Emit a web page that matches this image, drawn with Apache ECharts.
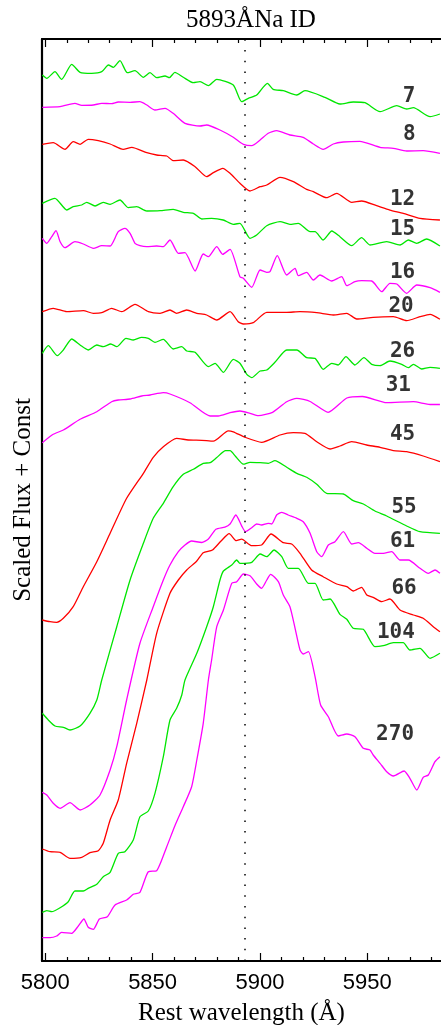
<!DOCTYPE html>
<html>
<head>
<meta charset="utf-8">
<script src="https://cdn.jsdelivr.net/npm/echarts@6/dist/echarts.min.js"></script>
<style>html,body{margin:0;padding:0;background:#fff;}#c{width:441px;height:1025px;}</style>
</head>
<body>
<div id="c"></div>
<script>
// Wavelength (Å) vs scaled flux + const, one array of [wavelength, flux] per epoch
const s7 = [[5798.6,88.6],[5800.7,88.27],[5804.5,88.93],[5807.6,88.17],[5812.3,89.67],[5816.2,88.87],[5821.6,88.77],[5826.3,88.93],[5829.4,89.6],[5831.7,89.37],[5834.8,90.03],[5838.2,88.83],[5841.8,89.03],[5845.7,88.37],[5848.8,88.83],[5851.9,88.33],[5855.8,88.5],[5857.8,88.33],[5860.4,88.87],[5864.3,88.37],[5869.0,87.83],[5872.1,87.93],[5876.0,87.53],[5879.9,88.17],[5887.6,87.6],[5891.5,85.93],[5894.6,86.27],[5898.5,86.6],[5903.5,87.77],[5906.2,87.17],[5910.9,87.03],[5917.2,86.6],[5921.0,87.03],[5930.3,86.37],[5937.3,85.7],[5943.5,85.9],[5949.0,85.83],[5956.0,84.93],[5963.8,85.53],[5968.4,85.2],[5971.5,85.33],[5979.3,84.43],[5983.9,84.7]];
const s8 = [[5798.6,85.37],[5806.9,85.43],[5813.8,85.77],[5817.0,85.57],[5822.4,85.6],[5826.3,85.77],[5830.9,85.73],[5834.0,85.9],[5839.5,85.87],[5844.1,85.93],[5847.3,85.6],[5851.1,85.1],[5855.8,85.27],[5859.6,84.77],[5865.1,83.77],[5872.1,83.5],[5875.2,83.6],[5881.4,83.1],[5887.6,82.37],[5892.3,81.67],[5896.2,81.53],[5900.1,82.1],[5903.9,82.77],[5907.8,83.03],[5914.0,82.6],[5920.2,82.37],[5924.9,81.7],[5929.5,81.17],[5934.2,81.7],[5938.9,81.9],[5946.6,81.97],[5956.0,81.37],[5962.2,81.27],[5968.4,81.0],[5976.1,81.03],[5983.9,80.77]];
const s12 = [[5798.6,81.67],[5803.7,81.83],[5809.2,81.17],[5813.0,81.93],[5816.2,81.67],[5820.0,82.17],[5824.7,82.03],[5830.2,81.7],[5836.3,81.17],[5840.3,81.37],[5847.3,80.83],[5851.9,80.6],[5856.6,80.5],[5859.6,80.03],[5864.3,80.1],[5869.8,79.43],[5875.2,78.43],[5878.3,78.83],[5882.7,79.27],[5886.1,78.77],[5890.7,77.77],[5895.4,77.0],[5900.1,77.43],[5903.2,77.6],[5909.4,78.37],[5915.6,77.93],[5921.8,77.17],[5924.9,76.93],[5931.1,76.33],[5935.8,76.77],[5942.8,75.87],[5947.4,76.0],[5954.4,75.53],[5960.6,75.1],[5966.8,74.77],[5974.6,74.27],[5983.9,74.1]];
const s15 = [[5798.6,75.77],[5804.5,76.27],[5810.0,75.1],[5813.0,75.43],[5817.0,75.6],[5819.3,75.87],[5823.2,75.5],[5827.0,75.87],[5830.2,75.67],[5834.8,76.1],[5838.7,75.33],[5842.6,75.43],[5847.3,75.0],[5853.5,75.03],[5859.6,75.17],[5864.3,74.87],[5869.0,74.77],[5872.9,74.2],[5877.5,74.27],[5882.9,74.1],[5887.6,73.67],[5890.7,73.77],[5895.4,72.27],[5898.5,72.6],[5903.2,73.53],[5909.4,73.93],[5914.0,73.67],[5917.9,73.77],[5923.4,72.93],[5925.7,72.93],[5929.5,72.1],[5933.5,73.0],[5937.3,72.43],[5942.8,71.53],[5947.4,72.33],[5951.3,71.6],[5959.1,71.93],[5965.3,71.6],[5969.2,72.1],[5973.1,71.77],[5977.7,72.2],[5983.9,71.5]];
const s16 = [[5798.6,72.27],[5800.7,71.77],[5803.0,72.43],[5805.0,73.03],[5806.9,71.93],[5809.2,71.33],[5813.8,71.93],[5817.7,71.7],[5822.4,71.27],[5826.3,71.53],[5830.2,71.5],[5834.0,72.93],[5837.1,73.27],[5839.5,72.77],[5841.8,71.77],[5844.1,71.53],[5847.3,71.43],[5851.9,71.5],[5855.0,71.43],[5858.1,72.1],[5862.0,70.77],[5865.1,70.83],[5869.8,69.0],[5873.6,70.7],[5876.0,70.43],[5879.9,71.43],[5882.7,70.67],[5886.1,71.17],[5890.7,68.43],[5892.3,68.27],[5896.2,67.37],[5900.1,69.1],[5903.2,68.87],[5904.7,68.93],[5908.1,70.53],[5912.5,68.6],[5916.4,69.27],[5917.9,68.53],[5921.8,68.87],[5924.9,68.1],[5928.0,68.6],[5933.5,68.0],[5938.1,68.43],[5940.5,67.53],[5944.3,67.93],[5947.4,68.03],[5952.1,68.0],[5956.8,66.93],[5960.6,67.77],[5963.8,67.7],[5968.4,66.77],[5973.1,67.6],[5979.3,67.33],[5983.9,66.87]];
const s20 = [[5798.6,64.93],[5803.7,65.27],[5810.0,64.93],[5817.7,65.03],[5822.4,64.77],[5826.3,64.83],[5830.9,65.27],[5835.6,64.93],[5841.8,65.67],[5848.0,64.93],[5853.5,64.77],[5858.1,65.1],[5861.2,64.77],[5865.9,65.1],[5870.6,64.77],[5875.2,64.6],[5879.9,64.1],[5886.1,64.93],[5889.9,63.93],[5892.3,63.7],[5896.9,63.83],[5903.2,64.87],[5912.5,64.87],[5918.7,64.93],[5926.5,64.83],[5934.2,64.6],[5940.5,64.77],[5945.1,64.2],[5952.8,64.37],[5962.2,64.43],[5968.4,64.03],[5974.6,64.43],[5979.3,64.67],[5983.9,64.17]];
const s26 = [[5798.6,60.77],[5801.4,61.53],[5805.6,60.53],[5808.4,61.1],[5812.3,62.2],[5816.2,61.6],[5820.0,61.1],[5824.0,61.6],[5827.0,61.43],[5830.5,61.7],[5833.3,61.43],[5837.6,62.27],[5841.0,62.1],[5844.9,62.37],[5848.0,62.27],[5851.1,61.87],[5855.0,62.17],[5859.6,61.2],[5863.6,61.43],[5865.9,61.0],[5869.8,60.87],[5876.0,59.43],[5879.1,59.77],[5883.0,58.87],[5887.6,60.17],[5890.7,59.77],[5893.9,58.67],[5896.2,58.33],[5900.1,59.0],[5903.2,59.1],[5907.0,59.87],[5912.5,61.1],[5917.2,61.1],[5921.8,60.33],[5925.7,60.27],[5929.5,59.17],[5933.5,59.77],[5936.5,59.6],[5940.1,60.43],[5944.3,59.6],[5948.5,60.33],[5952.1,59.67],[5956.0,59.53],[5960.6,60.0],[5966.1,59.67],[5969.2,59.33],[5971.5,59.67],[5975.4,59.2],[5979.3,59.37],[5983.9,59.27]];
const s31 = [[5798.6,51.83],[5803.7,52.67],[5808.4,53.1],[5816.2,54.17],[5824.0,54.93],[5830.9,55.93],[5834.0,56.1],[5839.5,56.2],[5844.9,56.5],[5848.8,56.6],[5855.0,56.83],[5858.1,56.7],[5867.4,55.83],[5876.8,54.5],[5880.6,54.5],[5886.1,54.83],[5890.7,55.0],[5895.4,54.77],[5899.3,54.53],[5905.9,54.87],[5912.5,55.93],[5917.2,56.27],[5923.4,55.95],[5931.8,54.87],[5940.5,56.3],[5947.8,56.45],[5959.1,55.83],[5971.5,55.93],[5979.3,55.65],[5983.9,55.65]];
const s45 = [[5798.6,34.1],[5802.2,33.93],[5805.3,33.87],[5808.4,34.27],[5813.0,35.43],[5817.7,37.43],[5824.0,39.93],[5830.2,42.77],[5837.9,46.27],[5845.7,48.77],[5850.3,50.37],[5855.0,51.43],[5861.2,52.27],[5866.6,52.1],[5872.9,52.07],[5878.3,51.98],[5885.3,53.02],[5887.6,52.92],[5893.1,52.37],[5900.8,51.87],[5909.4,52.6],[5915.6,52.83],[5921.0,52.77],[5926.5,51.93],[5932.7,51.2],[5937.3,51.5],[5942.8,51.93],[5949.8,51.6],[5956.0,51.37],[5962.2,51.03],[5968.4,50.93],[5976.1,50.5],[5983.9,49.93]];
const s55 = [[5798.6,24.77],[5801.4,24.1],[5804.5,23.5],[5808.4,23.37],[5811.5,23.1],[5816.2,23.5],[5820.8,24.77],[5824.0,26.1],[5826.3,28.1],[5833.3,33.43],[5839.5,38.1],[5845.7,41.77],[5850.3,44.27],[5855.0,45.77],[5859.6,47.43],[5864.3,48.67],[5869.0,49.17],[5873.6,49.77],[5876.8,49.83],[5879.9,50.35],[5884.0,51.03],[5886.1,51.03],[5888.6,50.47],[5892.3,49.68],[5895.4,49.87],[5900.1,49.83],[5903.9,49.77],[5907.0,50.03],[5912.5,49.37],[5917.2,48.77],[5921.8,48.37],[5926.5,47.67],[5931.1,46.77],[5938.9,46.7],[5943.5,46.03],[5948.2,45.7],[5953.6,45.0],[5959.1,44.5],[5968.4,43.5],[5974.6,42.93],[5983.9,42.77]];
const s61 = [[5798.6,16.87],[5800.7,16.6],[5803.7,15.77],[5806.9,15.27],[5811.5,15.83],[5816.2,15.1],[5820.8,15.6],[5825.5,16.6],[5830.2,19.1],[5833.3,21.43],[5837.9,26.1],[5844.1,31.77],[5850.3,35.43],[5855.0,38.1],[5858.1,39.6],[5862.0,40.93],[5865.1,41.6],[5868.2,42.0],[5872.9,41.85],[5876.0,42.2],[5879.5,43.17],[5883.7,43.38],[5886.1,43.7],[5888.8,44.6],[5891.5,43.52],[5893.3,42.93],[5896.2,43.33],[5898.5,43.7],[5900.8,43.6],[5903.9,43.77],[5905.5,43.7],[5907.8,44.6],[5910.2,44.87],[5913.2,44.6],[5917.2,44.27],[5920.2,43.93],[5923.4,42.77],[5926.5,40.93],[5928.8,40.43],[5931.9,41.6],[5935.0,41.93],[5938.9,42.93],[5942.8,41.7],[5945.9,41.83],[5949.8,41.27],[5953.6,40.77],[5957.5,40.77],[5961.4,40.93],[5965.3,40.1],[5969.2,40.1],[5974.6,39.27],[5978.5,38.77],[5981.6,39.1],[5983.9,38.77]];
const s66 = [[5798.6,11.2],[5802.2,10.93],[5806.9,10.87],[5811.5,10.27],[5817.0,10.37],[5820.8,10.83],[5824.7,11.03],[5827.0,11.77],[5830.2,14.1],[5834.0,16.1],[5837.9,19.77],[5842.6,23.77],[5847.3,28.1],[5851.9,32.77],[5858.1,36.77],[5862.0,38.1],[5865.9,39.1],[5870.6,40.0],[5873.6,40.83],[5877.9,41.1],[5881.9,42.0],[5885.7,42.73],[5889.0,42.03],[5891.5,42.18],[5896.2,41.53],[5900.8,41.6],[5905.2,42.7],[5910.9,41.83],[5914.8,41.7],[5918.7,40.77],[5924.1,39.1],[5929.5,38.43],[5935.8,37.7],[5940.5,37.43],[5943.5,37.0],[5947.4,37.37],[5949.8,36.6],[5952.8,36.37],[5956.8,35.93],[5960.6,36.2],[5965.3,35.1],[5971.5,34.6],[5976.1,34.27],[5980.8,33.43],[5983.9,32.93]];
const s104 = [[5798.6,4.87],[5800.7,5.03],[5803.0,4.93],[5806.9,5.33],[5810.7,5.93],[5813.8,7.0],[5817.7,7.0],[5820.0,7.27],[5824.0,7.67],[5827.0,8.43],[5830.2,8.87],[5834.0,10.77],[5837.1,10.93],[5841.0,12.1],[5844.1,14.43],[5848.0,15.0],[5851.1,16.77],[5855.0,20.43],[5858.1,24.1],[5861.2,25.27],[5863.6,26.6],[5865.1,28.1],[5870.6,30.77],[5875.2,33.43],[5878.3,35.43],[5881.4,38.1],[5883.0,39.0],[5886.9,39.6],[5889.2,40.1],[5890.7,39.77],[5896.2,39.87],[5900.1,40.7],[5903.2,40.43],[5906.6,41.1],[5910.2,40.43],[5913.2,39.27],[5917.9,39.27],[5922.6,37.77],[5925.7,37.77],[5929.5,36.1],[5932.7,36.2],[5937.3,34.67],[5940.5,34.17],[5943.5,33.27],[5948.2,33.17],[5953.6,31.43],[5957.5,31.53],[5962.2,31.83],[5966.8,31.83],[5969.9,31.1],[5974.6,31.27],[5979.3,30.27],[5983.9,30.77]];
const s270 = [[5798.6,2.33],[5802.2,2.33],[5805.3,2.5],[5807.6,2.87],[5812.3,2.77],[5815.4,3.5],[5818.0,4.2],[5820.0,3.37],[5822.4,3.17],[5825.2,4.2],[5828.9,4.43],[5832.5,5.6],[5837.9,6.1],[5841.0,6.67],[5844.1,6.87],[5848.0,8.93],[5851.9,9.03],[5856.6,11.43],[5860.4,13.53],[5864.3,15.43],[5868.2,17.43],[5870.6,20.1],[5873.6,23.77],[5876.0,28.1],[5877.5,30.1],[5879.9,33.43],[5883.0,35.1],[5886.9,37.77],[5889.2,37.93],[5892.3,38.7],[5895.4,38.53],[5898.5,37.7],[5900.8,37.27],[5903.2,38.1],[5905.0,38.67],[5908.6,37.93],[5910.9,36.6],[5914.0,35.43],[5916.4,33.27],[5918.7,31.1],[5920.2,30.7],[5922.6,30.93],[5925.7,28.43],[5928.3,25.6],[5931.9,24.43],[5936.5,22.5],[5940.5,22.7],[5944.3,22.43],[5948.2,21.27],[5951.3,21.1],[5952.8,20.6],[5956.0,19.77],[5959.1,18.93],[5962.2,18.5],[5967.2,19.0],[5969.9,18.27],[5973.1,17.1],[5976.1,18.37],[5978.5,18.6],[5981.6,19.93],[5983.9,20.43]];

const epochs = ['7','8','12','15','16','20','26','31','45','55','61','66','104','270'];
const spectra = [s7,s8,s12,s15,s16,s20,s26,s31,s45,s55,s61,s66,s104,s270];
// label anchor positions [wavelength, flux]
const labelWave = [5969.5,5969.6,5966.5,5966.5,5966.5,5965.8,5966.5,5964.5,5966.5,5967.2,5966.5,5967.2,5963.4,5963.0];
const labelFlux = [86.43,82.6,76.1,73.17,68.87,65.43,60.93,57.53,52.67,45.33,41.93,37.2,32.87,22.67];
const naLine = 5893;
const majorTicks = [5800,5850,5900,5950];
const minorTicks = [5810,5820,5830,5840,5860,5870,5880,5890,5910,5920,5930,5940,5960,5970,5980];
const xMin = 5798.46, xMax = 5984.4, yMin = 0, yMax = 92.2;

const palette = ['#00e600','#ff00ff','#ff0000'];

const chart = echarts.init(document.getElementById('c'), null, {renderer:'canvas'});

function xa(pos, ticks, len, showLabel, showLine, name) {
  const a = {
    type:'value', position:pos, min:xMin, max:xMax, gridIndex:0,
    splitLine:{show:false},
    axisLine:{show:showLine, onZero:false, lineStyle:{color:'#000', width:2}},
    axisTick:{show:true, inside:true, length:len, customValues:ticks, lineStyle:{color:'#000', width:1.2}},
    axisLabel:{show:showLabel, customValues:ticks, formatter:v=>String(Math.round(v)), color:'#000', fontSize:22, fontFamily:'Liberation Sans', margin:11},
    minorTick:{show:false}
  };
  if (name) {
    a.name = name; a.nameLocation = 'middle'; a.nameGap = 40;
    a.nameTextStyle = {color:'#000', fontSize:25, fontFamily:'Liberation Serif'};
  }
  return a;
}

const series = spectra.map((d, i) => ({
  type:'line', name:epochs[i], data:d, showSymbol:false, symbol:'none',
  xAxisIndex:0, yAxisIndex:0, clip:true, smooth:0.2,
  lineStyle:{color:palette[i%3], width:1.3},
  animation:false
}));
series[0].markLine = {
  silent:true, symbol:'none', label:{show:false},
  lineStyle:{color:'#000', type:[1.5,9.2], width:1.5},
  data:[{xAxis:naLine}]
};
series.push({
  type:'scatter', symbolSize:0, silent:true, animation:false,
  data: epochs.map((e,i)=>({name:e, value:[labelWave[i], labelFlux[i]]})),
  label:{show:true, position:'inside', formatter:p=>p.name, color:'#000',
         fontSize:21, fontWeight:'bold', fontFamily:'DejaVu Sans Mono'}
});

chart.setOption({
  animation:false,
  backgroundColor:'#fff',
  title:{text:'5893ÅNa ID', left:246, top:3, textAlign:'center',
         textStyle:{color:'#000', fontSize:25, fontWeight:'normal', fontFamily:'Liberation Serif'}},
  grid:{left:42, right:0, top:39, bottom:64, containLabel:false, outerBoundsMode:'none'},
  xAxis:[
    xa('bottom', majorTicks, 8, true, true, 'Rest wavelength (Å)'),
    xa('bottom', minorTicks, 4, false, false),
    xa('top', majorTicks, 8, false, true),
    xa('top', minorTicks, 4, false, false)
  ],
  yAxis:[{
    type:'value', min:yMin, max:yMax, position:'left',
    name:'Scaled Flux + Const', nameLocation:'middle', nameGap:6, nameRotate:90,
    nameTextStyle:{color:'#000', fontSize:25, fontFamily:'Liberation Serif'},
    axisLine:{show:true, onZero:false, lineStyle:{color:'#000', width:2.2}},
    axisTick:{show:false}, axisLabel:{show:false}, splitLine:{show:false}
  }],
  series: series
});
</script>
</body>
</html>
